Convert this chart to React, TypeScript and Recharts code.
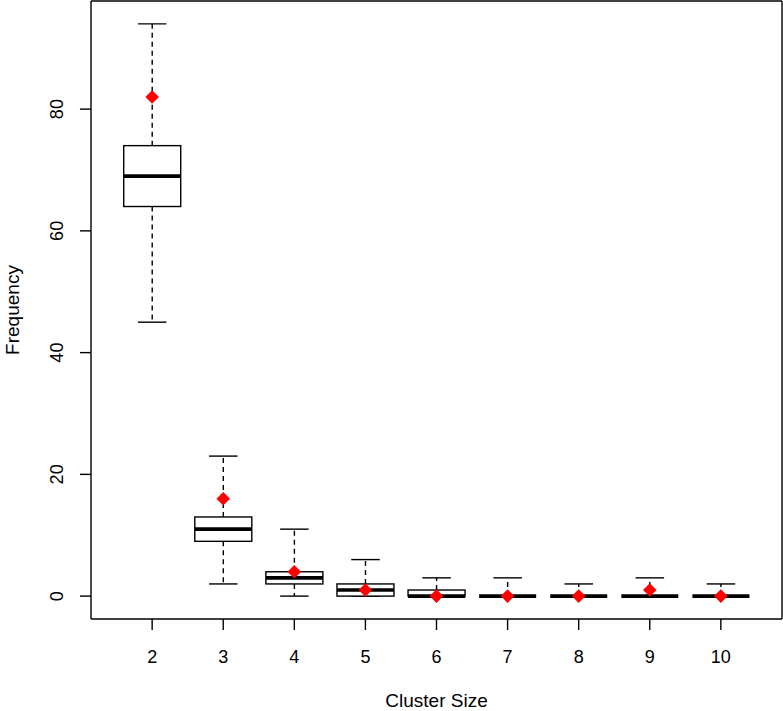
import { ComposedChart, Bar, Scatter, XAxis, YAxis, Label, CartesianGrid } from 'recharts'

const clusterSizes = ['2', '3', '4', '5', '6', '7', '8', '9', '10']
const whiskerLow = [45, 2, 0, 0, 0, 0, 0, 0, 0]
const quartile1 = [64, 9, 2, 0, 0, 0, 0, 0, 0]
const medians = [69, 11, 3, 1, 0, 0, 0, 0, 0]
const quartile3 = [74, 13, 4, 2, 1, 0, 0, 0, 0]
const whiskerHigh = [94, 23, 11, 6, 3, 3, 2, 3, 2]
const observed = [82, 16, 4, 1, 0, 0, 0, 1, 0]
const yTicks = [0, 20, 40, 60, 80]

const data = clusterSizes.map((size, i) => ({
  size,
  range: [whiskerLow[i], whiskerHigh[i]],
  lo: whiskerLow[i],
  q1: quartile1[i],
  med: medians[i],
  q3: quartile3[i],
  hi: whiskerHigh[i],
  observed: observed[i],
}))

const FONT = '"Liberation Sans", Arial, Helvetica, sans-serif'

// box + whiskers drawn inside the [lo, hi] bar that recharts positions for us
function BoxShape(props: any) {
  const { x, y, width, height } = props
  const d = props.payload ?? data[props.index]
  const top = Math.min(y, y + height)
  const bottom = Math.max(y, y + height)
  const k = (bottom - top) / (d.hi - d.lo)
  const py = (v: number) => bottom - (v - d.lo) * k
  const cx = x + width / 2
  const half = width / 4

  return (
    <g>
      <line x1={cx} x2={cx} y1={py(d.q3)} y2={py(d.hi)} stroke="#000" strokeWidth={1.4} strokeDasharray="5 4" />
      <line x1={cx} x2={cx} y1={py(d.q1)} y2={py(d.lo)} stroke="#000" strokeWidth={1.4} strokeDasharray="5 4" />
      <line x1={cx - half} x2={cx + half} y1={py(d.hi)} y2={py(d.hi)} stroke="#000" strokeWidth={1.4} />
      <line x1={cx - half} x2={cx + half} y1={py(d.lo)} y2={py(d.lo)} stroke="#000" strokeWidth={1.4} />
      <rect
        x={x}
        y={py(d.q3)}
        width={width}
        height={py(d.q1) - py(d.q3)}
        fill="#fff"
        stroke="#000"
        strokeWidth={1.4}
      />
      <line x1={x} x2={x + width} y1={py(d.med)} y2={py(d.med)} stroke="#000" strokeWidth={3.6} />
    </g>
  )
}

function Diamond({ cx, cy }: any) {
  const r = 6.8
  return <polygon points={`${cx},${cy - r} ${cx + r},${cy} ${cx},${cy + r} ${cx - r},${cy}`} fill="#FF0000" />
}

function YTick({ x, y, payload }: any) {
  const tx = x - 15
  return (
    <text x={tx} y={y} transform={`rotate(-90, ${tx}, ${y})`} textAnchor="middle" fontSize={18} fill="#000" fontFamily={FONT}>
      {payload.value}
    </text>
  )
}

function XTick({ x, y, payload }: any) {
  return (
    <text x={x} y={y + 31} textAnchor="middle" fontSize={18} fill="#000" fontFamily={FONT}>
      {payload.value}
    </text>
  )
}

export default function App() {
  return (
    <div style={{ position: 'absolute', left: 0, top: 0, background: '#fff' }}>
      <ComposedChart width={783} height={711} data={data} margin={{ top: 1, right: 1, bottom: 0, left: 0 }} barCategoryGap="10%">
        {/* top and right edges of the plot frame */}
        <CartesianGrid
          stroke="#000"
          strokeWidth={1.4}
          horizontalCoordinatesGenerator={({ offset }: any) => [offset.top]}
          verticalCoordinatesGenerator={({ offset }: any) => [offset.left + offset.width]}
        />
        <XAxis
          dataKey="size"
          type="category"
          height={92}
          padding={{ left: 25.6, right: 25.6 }}
          tickSize={11}
          tick={<XTick />}
          tickLine={{ stroke: '#000', strokeWidth: 1.4 }}
          axisLine={{ stroke: '#000', strokeWidth: 1.4 }}
          interval={0}
        >
          <Label
            content={({ viewBox }: any) => (
              <text x={viewBox.x + viewBox.width / 2} y={viewBox.y + 88} textAnchor="middle" fontSize={19} fill="#000" fontFamily={FONT}>
                Cluster Size
              </text>
            )}
          />
        </XAxis>
        <YAxis
          type="number"
          domain={[-3.76, 97.76]}
          ticks={yTicks}
          allowDataOverflow
          width={91}
          tickSize={11}
          tick={<YTick />}
          tickLine={{ stroke: '#000', strokeWidth: 1.4 }}
          axisLine={{ stroke: '#000', strokeWidth: 1.4 }}
        >
          <Label
            content={({ viewBox }: any) => {
              const lx = viewBox.x + 19
              const ly = viewBox.y + viewBox.height / 2
              return (
                <text x={lx} y={ly} transform={`rotate(-90, ${lx}, ${ly})`} textAnchor="middle" fontSize={19} fill="#000" fontFamily={FONT}>
                  Frequency
                </text>
              )
            }}
          />
        </YAxis>
        <Bar dataKey="range" shape={<BoxShape />} isAnimationActive={false} />
        <Scatter dataKey="observed" shape={<Diamond />} isAnimationActive={false} />
      </ComposedChart>
    </div>
  )
}
